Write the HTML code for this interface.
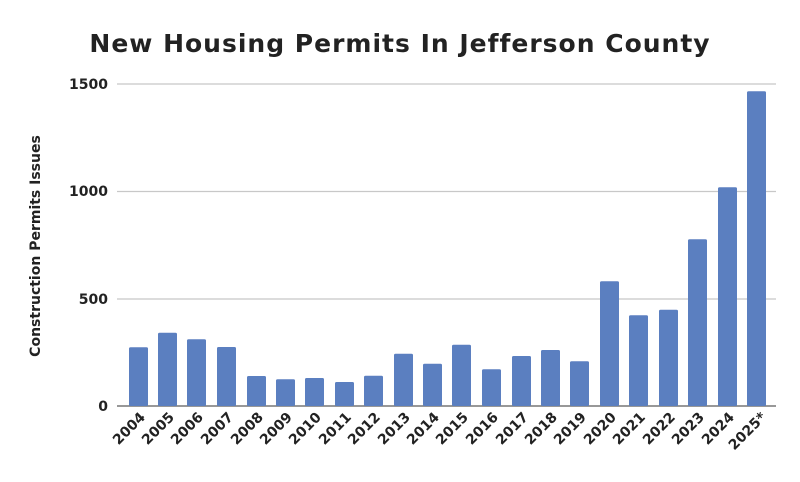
<!DOCTYPE html>
<html><head><meta charset="utf-8"><style>body{margin:0;background:#fff}svg{display:block}</style></head><body>
<svg width="800" height="482" xmlns="http://www.w3.org/2000/svg" font-family="'DejaVu Sans','Liberation Sans',sans-serif">
<text x="400" y="52" text-anchor="middle" font-size="25" font-weight="bold" fill="#222" letter-spacing="1">New Housing Permits In Jefferson County</text>
<g stroke="#c8c8c8" stroke-width="1.3"><line x1="117" y1="84" x2="776" y2="84"/><line x1="117" y1="191.5" x2="776" y2="191.5"/><line x1="117" y1="299" x2="776" y2="299"/></g>
<line x1="117" y1="406" x2="776" y2="406" stroke="#777" stroke-width="1.5"/>
<g font-size="14" font-weight="bold" fill="#222" text-anchor="end"><text x="108" y="89">1500</text><text x="108" y="196">1000</text><text x="108" y="304">500</text><text x="108" y="411">0</text></g>
<text transform="translate(40,246) rotate(-90)" text-anchor="middle" font-size="14" font-weight="bold" fill="#222">Construction Permits Issues</text>
<g fill="#5b7fc0">
<rect x="129" y="347.3" width="19" height="58.7" rx="1.5"/>
<rect x="158" y="332.7" width="19" height="73.3" rx="1.5"/>
<rect x="187" y="339.3" width="19" height="66.7" rx="1.5"/>
<rect x="217" y="347" width="19" height="59" rx="1.5"/>
<rect x="247" y="376" width="19" height="30" rx="1.5"/>
<rect x="276" y="379.3" width="19" height="26.7" rx="1.5"/>
<rect x="305" y="378" width="19" height="28" rx="1.5"/>
<rect x="335" y="382" width="19" height="24" rx="1.5"/>
<rect x="364" y="375.7" width="19" height="30.3" rx="1.5"/>
<rect x="394" y="353.7" width="19" height="52.3" rx="1.5"/>
<rect x="423" y="363.7" width="19" height="42.3" rx="1.5"/>
<rect x="452" y="344.7" width="19" height="61.3" rx="1.5"/>
<rect x="482" y="369.3" width="19" height="36.7" rx="1.5"/>
<rect x="512" y="356" width="19" height="50" rx="1.5"/>
<rect x="541" y="350" width="19" height="56" rx="1.5"/>
<rect x="570" y="361.3" width="19" height="44.7" rx="1.5"/>
<rect x="600" y="281.3" width="19" height="124.7" rx="1.5"/>
<rect x="629" y="315.3" width="19" height="90.7" rx="1.5"/>
<rect x="659" y="309.7" width="19" height="96.3" rx="1.5"/>
<rect x="688" y="239.3" width="19" height="166.7" rx="1.5"/>
<rect x="718" y="187.3" width="19" height="218.7" rx="1.5"/>
<rect x="747" y="91.3" width="19" height="314.7" rx="1.5"/>
</g>
<g font-size="14" font-weight="bold" fill="#222" text-anchor="end">
<text transform="translate(146,418) rotate(-45)">2004</text>
<text transform="translate(175,418) rotate(-45)">2005</text>
<text transform="translate(204,418) rotate(-45)">2006</text>
<text transform="translate(234,418) rotate(-45)">2007</text>
<text transform="translate(264,418) rotate(-45)">2008</text>
<text transform="translate(293,418) rotate(-45)">2009</text>
<text transform="translate(322,418) rotate(-45)">2010</text>
<text transform="translate(352,418) rotate(-45)">2011</text>
<text transform="translate(381,418) rotate(-45)">2012</text>
<text transform="translate(411,418) rotate(-45)">2013</text>
<text transform="translate(440,418) rotate(-45)">2014</text>
<text transform="translate(469,418) rotate(-45)">2015</text>
<text transform="translate(499,418) rotate(-45)">2016</text>
<text transform="translate(529,418) rotate(-45)">2017</text>
<text transform="translate(558,418) rotate(-45)">2018</text>
<text transform="translate(587,418) rotate(-45)">2019</text>
<text transform="translate(617,418) rotate(-45)">2020</text>
<text transform="translate(646,418) rotate(-45)">2021</text>
<text transform="translate(676,418) rotate(-45)">2022</text>
<text transform="translate(705,418) rotate(-45)">2023</text>
<text transform="translate(735,418) rotate(-45)">2024</text>
<text transform="translate(767,418) rotate(-45)">2025*</text>
</g>
</svg>
</body></html>
